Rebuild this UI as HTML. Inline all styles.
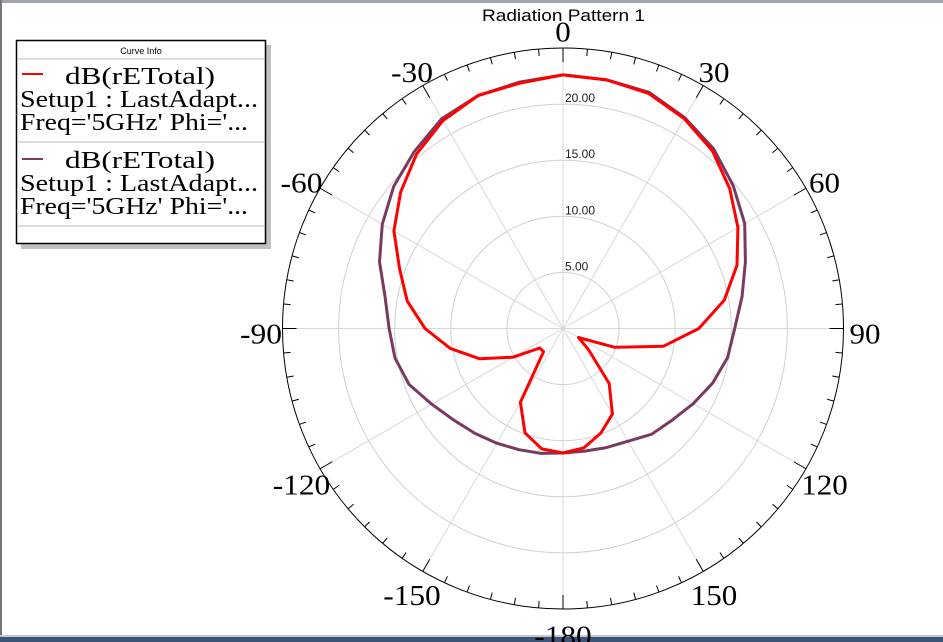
<!DOCTYPE html>
<html><head><meta charset="utf-8"><style>
html,body{margin:0;padding:0;background:#fff;}
svg{display:block;}
</style></head><body>
<svg id="chart" width="943" height="642" viewBox="0 0 943 642" xmlns="http://www.w3.org/2000/svg">
  <rect x="0" y="0" width="943" height="642" fill="#fff"/>
  <rect x="0" y="0" width="943" height="3" fill="#a0a4ac"/>
  <rect x="0" y="0" width="2" height="642" fill="#777"/>
  <rect x="0" y="635" width="943" height="2" fill="#c8c8c8"/>
  <rect x="0" y="637" width="943" height="5" fill="#3c5478"/>
  <text x="482" y="21" textLength="163" lengthAdjust="spacingAndGlyphs" font-family="Liberation Sans, sans-serif" font-size="17" fill="#000">Radiation Pattern 1</text>
  <g id="grid"></g>
  <g id="series"></g>
  <g id="axis"></g>
  <g>
    <rect x="21" y="45" width="250" height="204" fill="#c0c0c0"/>
    <rect x="16.5" y="40.5" width="249" height="203" fill="#fff" stroke="#000" stroke-width="1.5"/>
    <text x="141" y="54" text-anchor="middle" font-family="Liberation Sans, sans-serif" font-size="9">Curve Info</text>
    <line x1="17" y1="59" x2="265" y2="59" stroke="#bbb"/>
    <line x1="22" y1="74" x2="43" y2="74" stroke="#ff0000" stroke-width="2"/>
    <text x="65" y="84" textLength="150" lengthAdjust="spacingAndGlyphs" font-family="Liberation Serif, serif" font-size="24">dB(rETotal)</text>
    <text x="20" y="107" textLength="238" lengthAdjust="spacingAndGlyphs" font-family="Liberation Serif, serif" font-size="24">Setup1 : LastAdapt...</text>
    <text x="20" y="130" textLength="228" lengthAdjust="spacingAndGlyphs" font-family="Liberation Serif, serif" font-size="24">Freq='5GHz' Phi='...</text>
    <line x1="17" y1="142" x2="265" y2="142" stroke="#bbb"/>
    <line x1="22" y1="159" x2="43" y2="159" stroke="#7a3a60" stroke-width="2"/>
    <text x="65" y="168" textLength="150" lengthAdjust="spacingAndGlyphs" font-family="Liberation Serif, serif" font-size="24">dB(rETotal)</text>
    <text x="20" y="191" textLength="238" lengthAdjust="spacingAndGlyphs" font-family="Liberation Serif, serif" font-size="24">Setup1 : LastAdapt...</text>
    <text x="20" y="214" textLength="228" lengthAdjust="spacingAndGlyphs" font-family="Liberation Serif, serif" font-size="24">Freq='5GHz' Phi='...</text>
    <line x1="17" y1="226" x2="265" y2="226" stroke="#bbb"/>
  </g>
</svg>
<script>
const angles = [0,10,20,30,40,50,60,70,80,90,100,110,120,130,140,150,160,170,180,190,200,210,220,230,240,250,260,270,280,290,300,310,320,330,340,350];
const redValues = [22.6,22.5,22.3,21.6,20.7,19.4,18.0,16.5,14.6,12.1,9.1,4.9,1.6,3.0,6.4,8.8,9.9,10.8,11.1,10.9,9.9,7.6,2.7,2.7,5.1,7.9,10.2,12.3,14.1,15.5,17.4,18.9,20.3,21.4,22.1,22.2];
const purpleValues = [22.6,22.5,22.4,21.7,20.9,19.8,18.7,17.3,16.2,15.3,14.9,14.2,13.4,12.7,12.3,11.6,11.3,11.1,11.1,11.3,11.5,11.8,12.2,12.7,13.5,14.6,15.2,15.5,16.1,17.4,18.6,19.7,20.6,21.6,22.1,22.3];
const ringValues = [5,10,15,20];
const ringLabels = ["5.00","10.00","15.00","20.00"];
const angleLabelValues = [0,30,60,90,120,150,-180,-150,-120,-90,-60,-30];

const NS = "http://www.w3.org/2000/svg";
const cx = 563, cy = 328.5, R = 280.5, rMin = 0, rMax = 25;
function rScale(v){ return (v - rMin) / (rMax - rMin) * R; }
function pt(deg, r){ const a = deg*Math.PI/180; return [cx + r*Math.sin(a), cy - r*Math.cos(a)]; }
function mk(tag, attrs, parent){ const e = document.createElementNS(NS, tag); for (const k in attrs) e.setAttribute(k, attrs[k]); parent.appendChild(e); return e; }

const grid = document.getElementById('grid');
ringValues.forEach((v,i) => {
  const c = mk('circle', {cx:cx, cy:cy, r:rScale(v), fill:'none', stroke:'#d0d0d0', 'stroke-width':1}, grid);
  
  
});
for (let a = 0; a < 360; a += 30) {
  const p = pt(a, R);
  const l = mk('line', {x1:cx, y1:cy, x2:p[0], y2:p[1], stroke:'#d8d8d8', 'stroke-width':1}, grid);
  
  
}
ringValues.forEach((v,i) => {
  const t = mk('text', {x:cx+2, y:cy - rScale(v) - 2, 'font-family':'Liberation Sans, sans-serif', 'font-size':12, fill:'#222'}, grid);
  t.textContent = ringLabels[i];
  
  
});

const series = document.getElementById('series');
function drawSeries(vals, color, name){
  const pts = angles.map((a,i) => pt(a, rScale(vals[i])));
  pts.push(pts[0]);
  const pl = mk('polyline', {points: pts.map(p => p[0].toFixed(1)+','+p[1].toFixed(1)).join(' '), fill:'none', stroke:color, 'stroke-width':3, 'stroke-linejoin':'round'}, series);
  
  
}
drawSeries(purpleValues, '#7a3a60', 'series-purple');
drawSeries(redValues, '#ff0000', 'series-red');

const axis = document.getElementById('axis');
const oc = mk('circle', {cx:cx, cy:cy, r:R, fill:'none', stroke:'#000', 'stroke-width':1}, axis);


for (let a = 0; a < 360; a += 5) {
  const len = (a % 30 === 0) ? 14 : 7;
  const p1 = pt(a, R), p2 = pt(a, R - len);
  const tk = mk('line', {x1:p1[0], y1:p1[1], x2:p2[0], y2:p2[1], stroke:'#000', 'stroke-width':1}, axis);
  
  
}
angleLabelValues.forEach(v => {
  const s = String(v);
  const p = pt(v, 302);
  const digits = s.replace('-', '').length;
  const w = digits * 15.5 + (v < 0 ? 11 : 0);
  const t = mk('text', {x:p[0] - w/2, y:p[1]+15, textLength:w, lengthAdjust:'spacingAndGlyphs', 'font-family':'Liberation Serif, serif', 'font-size':29, fill:'#000'}, axis);
  t.textContent = s;
  
  
});
</script>
</body></html>
